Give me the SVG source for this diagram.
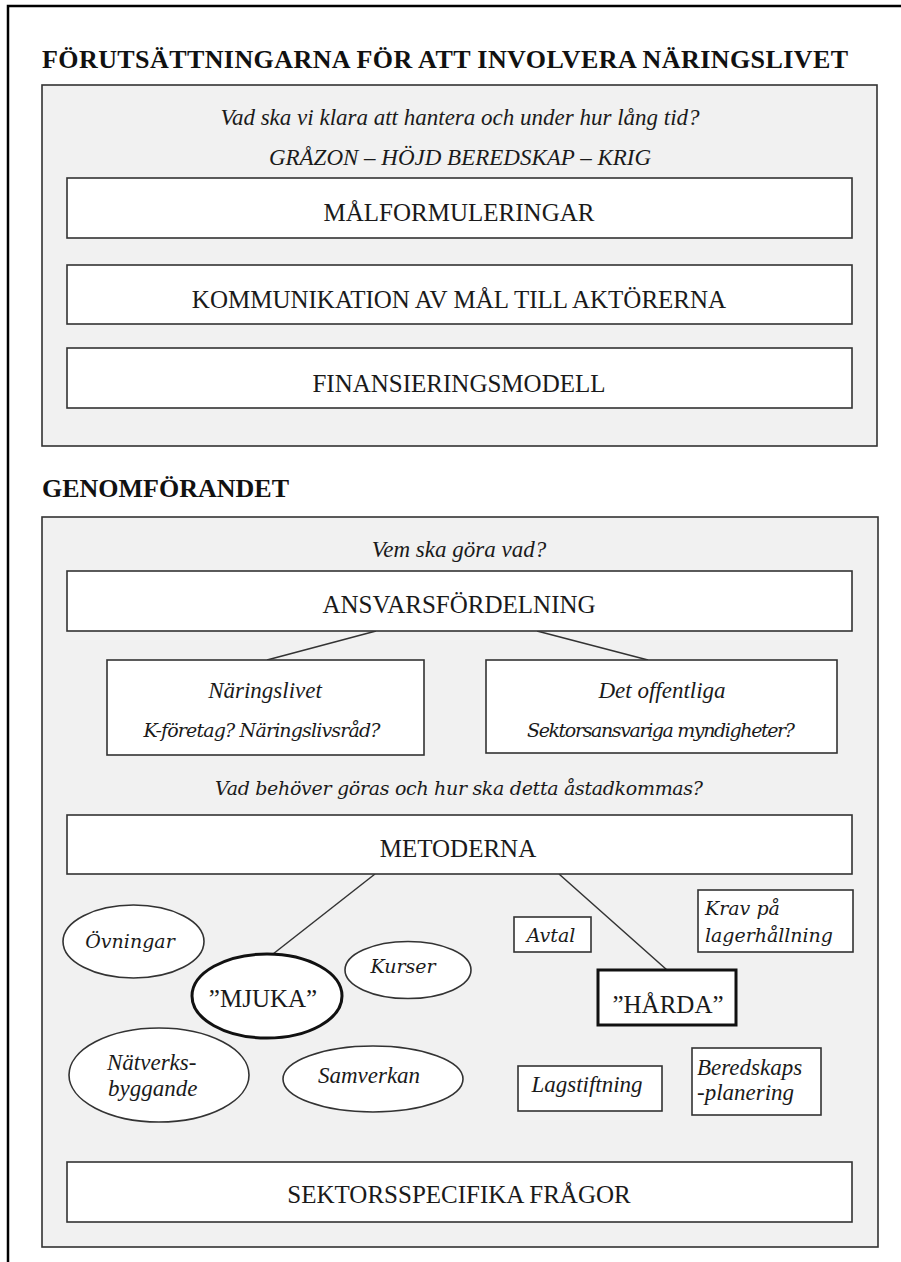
<svg xmlns="http://www.w3.org/2000/svg" width="901" height="1262" viewBox="0 0 901 1262">
<style>
.frame{fill:none;stroke:#000;stroke-width:2.5}
.panel{fill:#f1f1f1;stroke:#333;stroke-width:1.6}
.box{fill:#fff;stroke:#333;stroke-width:1.6}
.thick{fill:#fff;stroke:#111;stroke-width:3}
.h{font-weight:bold;font-size:26px;fill:#111}
.lbl{font-size:25px;fill:#1a1a1a;text-anchor:middle}
.it{font-style:italic;font-size:23px;fill:#1a1a1a}
.it2{font-style:italic;font-size:19px;fill:#1a1a1a}
.c{text-anchor:middle}
.conn{stroke:#333;stroke-width:1.5;fill:none}
</style>
<rect x="0" y="0" width="901" height="1262" fill="#fff"/>
<path class="frame" d="M8,1262 V6 H901"/>

<g font-family="'Liberation Serif', serif">
<g id="section1">
<text class="h" x="42" y="68" textLength="806">FÖRUTSÄTTNINGARNA FÖR ATT INVOLVERA NÄRINGSLIVET</text>
<rect class="panel" x="42" y="85" width="835" height="361"/>
<text class="it c" x="460" y="125">Vad ska vi klara att hantera och under hur lång tid?</text>
<text class="it c" x="460" y="165">GRÅZON – HÖJD BEREDSKAP – KRIG</text>
</g>
<g id="malformuleringar">
<rect class="box" x="67" y="178" width="785" height="60"/>
<text class="lbl" x="459" y="221">MÅLFORMULERINGAR</text>
</g>
<g id="kommunikation">
<rect class="box" x="67" y="265" width="785" height="59"/>
<text class="lbl" x="459" y="308">KOMMUNIKATION AV MÅL TILL AKTÖRERNA</text>
</g>
<g id="finansiering">
<rect class="box" x="67" y="348" width="785" height="60"/>
<text class="lbl" x="459" y="392">FINANSIERINGSMODELL</text>
</g>

<g id="section2">
<text class="h" x="42" y="497">GENOMFÖRANDET</text>
<rect class="panel" x="42" y="517" width="836" height="730"/>
<text class="it c" x="459" y="557">Vem ska göra vad?</text>
<text class="it2 c" x="459" y="795" textLength="488" font-family="'DejaVu Serif', serif">Vad behöver göras och hur ska detta åstadkommas?</text>
</g>

<g id="connectors">
<line class="conn" x1="376" y1="631" x2="267" y2="660"/>
<line class="conn" x1="537" y1="631" x2="648" y2="660"/>
<line class="conn" x1="375" y1="874" x2="273" y2="954"/>
<line class="conn" x1="559" y1="874" x2="667" y2="970"/>
</g>

<g id="ansvarsfordelning">
<rect class="box" x="67" y="571" width="785" height="60"/>
<text class="lbl" x="459" y="613">ANSVARSFÖRDELNING</text>
</g>
<g id="naringslivet">
<rect class="box" x="107" y="660" width="317" height="95"/>
<text class="it c" x="265" y="698">Näringslivet</text>
<text class="it2 c" x="262" y="737" textLength="237" font-family="'DejaVu Serif', serif">K-företag? Näringslivsråd?</text>
</g>
<g id="offentliga">
<rect class="box" x="486" y="660" width="351" height="93"/>
<text class="it c" x="662" y="698">Det offentliga</text>
<text class="it2 c" x="661" y="737" textLength="268" font-family="'DejaVu Serif', serif">Sektorsansvariga myndigheter?</text>
</g>
<g id="metoderna">
<rect class="box" x="67" y="815" width="785" height="59"/>
<text class="lbl" x="458" y="857">METODERNA</text>
</g>

<g id="ovningar">
<ellipse class="box" cx="133.5" cy="941.5" rx="70.5" ry="36.5"/>
<text class="it2 c" x="130" y="948" font-family="'DejaVu Serif', serif">Övningar</text>
</g>
<g id="mjuka">
<ellipse class="thick" cx="267" cy="996" rx="75" ry="42"/>
<text class="lbl" x="263" y="1007">”MJUKA”</text>
</g>
<g id="kurser">
<ellipse class="box" cx="408" cy="970" rx="63" ry="28.5"/>
<text class="it2 c" x="403" y="973" font-family="'DejaVu Serif', serif">Kurser</text>
</g>
<g id="natverksbyggande">
<ellipse class="box" cx="159" cy="1075" rx="90" ry="47"/>
<text class="it" x="107" y="1070">Nätverks-</text>
<text class="it" x="108" y="1096">byggande</text>
</g>
<g id="samverkan">
<ellipse class="box" cx="373" cy="1079" rx="90" ry="33"/>
<text class="it c" x="369" y="1083">Samverkan</text>
</g>

<g id="avtal">
<rect class="box" x="514" y="917" width="77" height="35"/>
<text class="it2 c" x="551" y="942" font-family="'DejaVu Serif', serif">Avtal</text>
</g>
<g id="krav">
<rect class="box" x="698" y="890" width="155" height="62"/>
<text class="it2" x="705" y="915" font-family="'DejaVu Serif', serif">Krav på</text>
<text class="it2" x="705" y="942" textLength="128" font-family="'DejaVu Serif', serif">lagerhållning</text>
</g>
<g id="harda">
<rect class="thick" x="598" y="970" width="138" height="55"/>
<text class="lbl" x="668" y="1013">”HÅRDA”</text>
</g>
<g id="lagstiftning">
<rect class="box" x="518" y="1066" width="144" height="45"/>
<text class="it c" x="587" y="1092">Lagstiftning</text>
</g>
<g id="beredskapsplanering">
<rect class="box" x="692" y="1048" width="129" height="67"/>
<text class="it" x="697" y="1075">Beredskaps</text>
<text class="it" x="697" y="1100">-planering</text>
</g>

<g id="sektorsspecifika">
<rect class="box" x="67" y="1162" width="785" height="60"/>
<text class="lbl" x="459" y="1203">SEKTORSSPECIFIKA FRÅGOR</text>
</g>
</g>
</svg>
